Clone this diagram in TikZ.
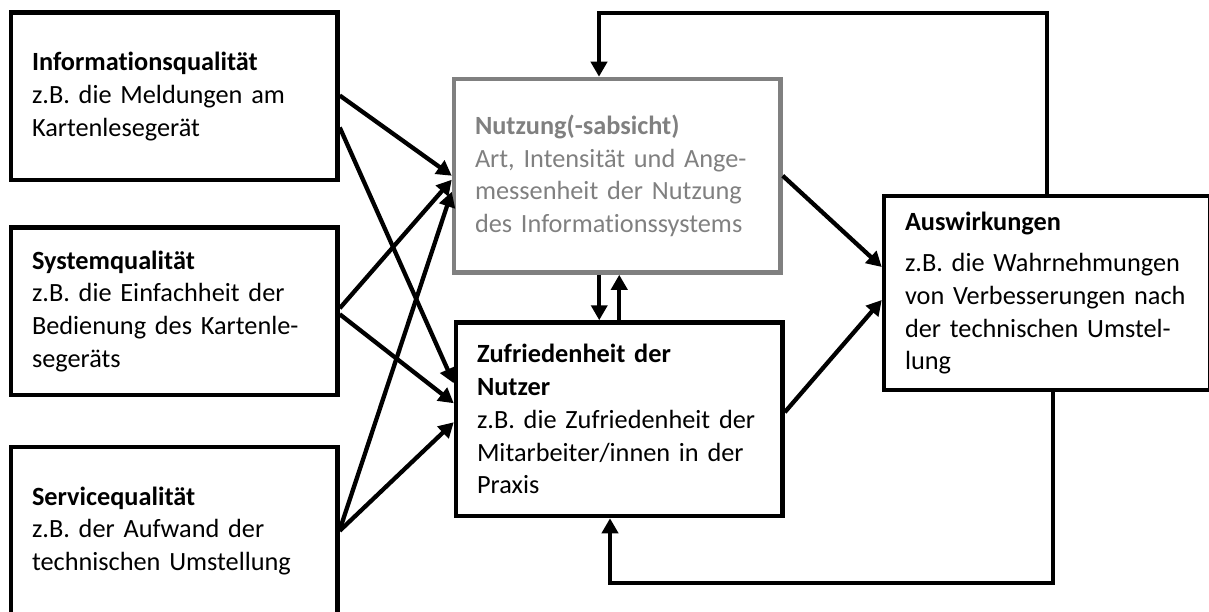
\documentclass[tikz,border=0pt]{standalone}
\usepackage{fontspec}
\setmainfont{Carlito}[Ligatures=NoCommon]
\usetikzlibrary{arrows.meta,calc}
\definecolor{ngray}{RGB}{128,128,128}
\begin{document}
\begin{tikzpicture}[x=1pt,y=-1pt,
  box/.style={draw=black, line width=4.5pt, minimum width=326.5pt, inner xsep=21pt,
    text width=284.5pt, align=left, font=\fontsize{26.3}{32.7}\selectfont},
  arr/.style={line width=4.3pt, -{Triangle[length=15pt,width=16pt]}},
]
\useasboundingbox (0,0) rectangle (1209,612);
\node[box, minimum height=167.5pt] (B1) at (174.25,96.5)
  {\textbf{Informationsqualität}\\z.B. die Meldungen am\\Kartenlesegerät};
\node[box, minimum height=167.5pt] (B2) at (174.25,311.25)
  {\textbf{Systemqualität}\\z.B. die Einfachheit der\\Bedienung des Kartenle-\\segeräts};
\node[box, minimum height=167.5pt] (B3) at (174.25,530.75)
  {\textbf{Servicequalität}\\z.B. der Aufwand der\\technischen Umstellung};
\node[box, minimum height=193.5pt, draw=ngray, text=ngray] (N) at (617.25,175.75)
  {\textbf{Nutzung(-sabsicht)}\\Art, Intensität und Ange-\\messenheit der Nutzung\\des Informationssystems};
\node[box, minimum height=193.5pt] (Z) at (619.25,419.25)
  {\textbf{Zufriedenheit der}\\\textbf{Nutzer}\\z.B. die Zufriedenheit der\\Mitarbeiter/innen in der\\Praxis};
\node[box, minimum height=194pt] (A) at (1047.25,293)
  {\textbf{Auswirkungen}\\[9pt]z.B. die Wahrnehmungen\\von Verbesserungen nach\\der technischen Umstel-\\lung};

\draw[arr] ([yshift=1pt]B1.east) -- (N.west);
\draw[arr] ([yshift=-31pt]B1.east) -- ([yshift=36pt]Z.west);
\draw[arr] ([yshift=3pt]B2.east) -- ([yshift=-4pt]N.west);
\draw[arr] ([yshift=-3pt]B2.east) -- ([yshift=16pt]Z.west);
\draw[arr] ([yshift=1pt]B3.east) -- ([yshift=-16pt]N.west);
\draw[arr] (B3.east) -- ([yshift=-3pt]Z.west);
\draw[arr] (N.east) -- ([yshift=26pt]A.west);
\draw[arr] ([yshift=7pt]Z.east) -- ([yshift=-7pt]A.west);

\coordinate (nz) at ([xshift=-18pt]N.south);
\draw[arr] (nz) -- (nz |- Z.north);
\draw[arr] (Z.north) -- (Z.north |- N.south);

\coordinate (topturn) at (599,13.3);
\draw[arr] (A.north) |- (topturn) -- (topturn |- N.north);

\coordinate (botturn) at (610,583.3);
\coordinate (abot) at ([xshift=6pt]A.south);
\draw[arr] (abot) |- (botturn) -- (botturn |- Z.south);
\end{tikzpicture}
\end{document}
